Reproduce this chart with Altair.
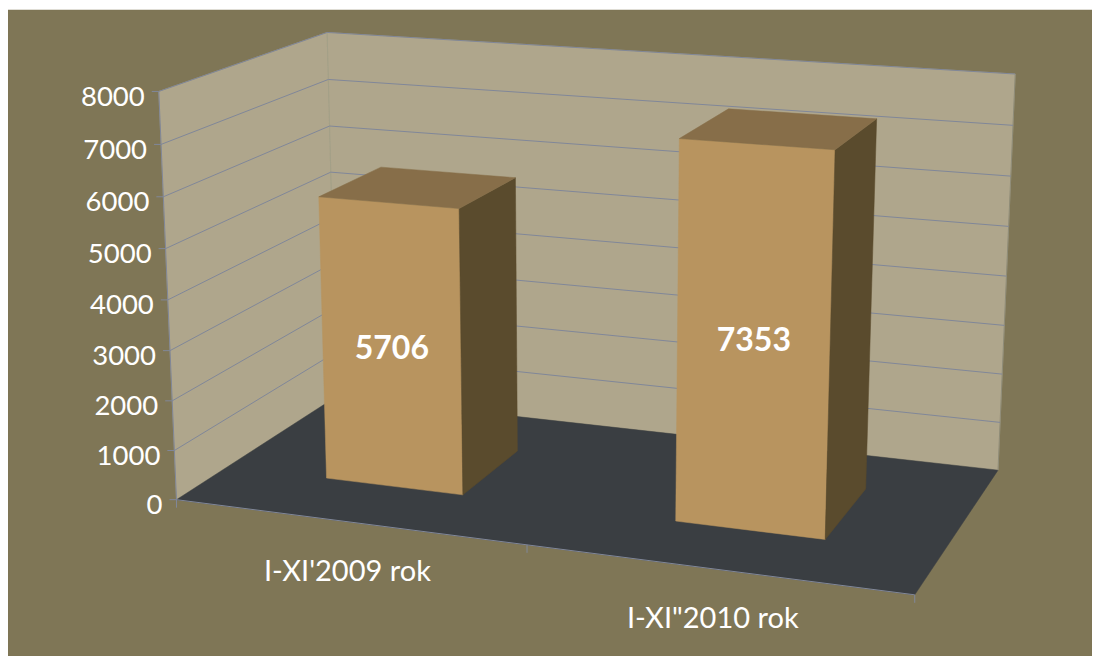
import altair as alt
import numpy as np
import pandas as pd

categories = ["I-XI'2009 rok", 'I-XI"2010 rok']
values = [5706, 7353]
ticks = [0, 1000, 2000, 3000, 4000, 5000, 6000, 7000, 8000]
# footprint of each bar on the floor: across (0..1), depth (0..1)
across = [(0.149, 0.350), (0.649, 0.849)]
depth = [(0.30, 0.70), (0.30, 0.72)]
cat_across = [0.25, 0.746]

BG, WALL, FLOOR = "#7F7656", "#AFA68C", "#3A3E42"
FRONT, TOP, SIDE = "#B8945F", "#876E49", "#5A4B2D"
GRID, TEXT = "#808799", "#FFFFFF"

# camera calibration: (across, depth, value) seen at (screen x, screen y)
calib = [
    ((0, 0, 0), (177, 499)), ((1, 0, 0), (915, 595)),
    ((1, 1, 0), (998, 470)), ((0, 1, 0), (336, 397)),
    ((0, 0, 8000), (158, 92)), ((0, 1, 8000), (328, 32)),
    ((1, 1, 8000), (1015, 74)),
]
rows = []
for (u, d, v), (X, Y) in calib:
    w = v / 8000
    rows.append([u, d, w, 1, 0, 0, 0, 0, -X * u, -X * d, -X * w, -X])
    rows.append([0, 0, 0, 0, u, d, w, 1, -Y * u, -Y * d, -Y * w, -Y])
P = np.linalg.svd(np.array(rows, float))[2][-1].reshape(3, 4)


def proj(u, d, v):
    h = P @ np.array([u, d, v / 8000, 1.0])
    return float(h[0] / h[2]), float(h[1] / h[2])


def poly(corners):
    pts = [proj(*c) for c in corners]
    pts.append(pts[0])
    return pd.DataFrame({"x": [p[0] for p in pts], "y": [p[1] for p in pts], "i": range(len(pts))})


def seg(pts):
    return pd.DataFrame({"x": [p[0] for p in pts], "y": [p[1] for p in pts], "i": range(len(pts))})


X = alt.X("x:Q", scale=alt.Scale(domain=[8, 1092], nice=False, zero=False), axis=None)
Y = alt.Y("y:Q", scale=alt.Scale(domain=[656, 8], nice=False, zero=False), axis=None)


def fill(df, color):
    return alt.Chart(df).mark_line(fill=color, stroke=color, strokeWidth=0.5).encode(x=X, y=Y, order="i:Q")


def line(df, color, sw=1.0):
    return alt.Chart(df).mark_line(stroke=color, strokeWidth=sw).encode(x=X, y=Y, order="i:Q")


def label(x, y, text, size, bold=False, align="center"):
    df = pd.DataFrame({"x": [x], "y": [y], "t": [text]})
    return alt.Chart(df).mark_text(
        font="Lato", fontSize=size, fontWeight="bold" if bold else "normal",
        color=TEXT, align=align, baseline="middle",
    ).encode(x=X, y=Y, text="t:N")


layers = []
layers.append(fill(seg([(8, 10), (1092, 10), (1092, 656), (8, 656), (8, 10)]), BG))
vmax = ticks[-1]
layers.append(fill(poly([(0, 0, 0), (0, 1, 0), (0, 1, vmax), (0, 0, vmax)]), WALL))
layers.append(fill(poly([(0, 1, 0), (1, 1, 0), (1, 1, vmax), (0, 1, vmax)]), WALL))
layers.append(fill(poly([(0, 0, 0), (1, 0, 0), (1, 1, 0), (0, 1, 0)]), FLOOR))

layers.append(line(seg([proj(0, 1, 0), proj(0, 1, vmax)]), "#A3A088"))
layers.append(line(seg([proj(1, 1, 0), proj(1, 1, vmax)]), "#8F8C78"))
layers.append(line(seg([proj(0, 0, 0), proj(0, 0, vmax)]), GRID))
for t in ticks:
    if t > 0:
        layers.append(line(seg([proj(0, 0, t), proj(0, 1, t), proj(1, 1, t)]), GRID))
    a = proj(0, 0, t)
    layers.append(line(seg([(a[0] - 7, a[1]), a]), GRID))
    layers.append(label(a[0] - 14, a[1] + 6.5, str(t), 27.5, align="right"))
layers.append(line(seg([proj(0, 0, 0), proj(1, 0, 0)]), GRID))
for u in (0, 0.5, 1):
    a = proj(u, 0, 0)
    layers.append(line(seg([a, (a[0], a[1] + 8)]), GRID))

for val, (u0, u1), (d0, d1) in zip(values, across, depth):
    layers.append(fill(poly([(u0, d0, 0), (u1, d0, 0), (u1, d0, val), (u0, d0, val)]), FRONT))
    layers.append(fill(poly([(u1, d0, 0), (u1, d1, 0), (u1, d1, val), (u1, d0, val)]), SIDE))
    layers.append(fill(poly([(u0, d0, val), (u1, d0, val), (u1, d1, val), (u0, d1, val)]), TOP))
    c = [proj(u0, d0, 0), proj(u1, d0, 0), proj(u1, d0, val), proj(u0, d0, val)]
    layers.append(label(sum(p[0] for p in c) / 4, sum(p[1] for p in c) / 4 + 4, str(val), 32, bold=True))

for name, u in zip(categories, cat_across):
    a = proj(u, 0, 0)
    layers.append(label(a[0], a[1] + 50, name, 29))

chart = alt.layer(*layers).properties(
    width=1084, height=648, padding=0, background="#FFFFFF",
    autosize=alt.AutoSizeParams(type="none"),
).configure_view(stroke=None)
chart.save("out.html", embed_options={"renderer": "svg", "actions": False})
